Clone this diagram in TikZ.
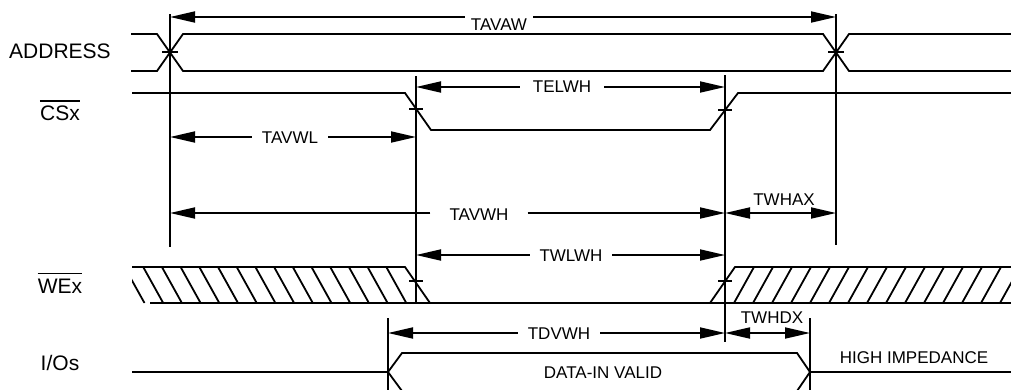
\documentclass[tikz,border=0pt]{standalone}
\usepackage{fontspec}
\setmainfont{Liberation Sans}
\usetikzlibrary{arrows.meta}
\begin{document}
\begin{tikzpicture}[x=1pt,y=-1pt,
  sig/.style={line width=1.8pt, line join=miter},
  guide/.style={line width=1.8pt},
  tick/.style={line width=1.6pt},
  dimr/.style={line width=1.8pt, -{Triangle[length=25pt,width=11pt]}},
  dimb/.style={line width=1.8pt, {Triangle[length=25pt,width=11pt]}-{Triangle[length=25pt,width=11pt]}},
  dimlbl/.style={font=\fontsize{17}{20}\selectfont, inner sep=0pt, anchor=base},
  signame/.style={font=\fontsize{21}{24}\selectfont, inner sep=0pt, anchor=base},
  hatchline/.style={line width=1.8pt},
  barline/.style={line width=1.6pt}]
\useasboundingbox (0,0) rectangle (1011,389);

% ---------- signal names ----------
\node[signame] (nAddr) at (60,58) {ADDRESS};
\node[signame] (nCS) at (60,120) {CSx};
\node[signame] (nWE) at (60,293) {WEx};
\node[signame] (nIO) at (60,370) {I/Os};
\draw[barline] ([yshift=4pt]nCS.north west) -- ([yshift=4pt]nCS.north east);
\draw[barline] ([yshift=5pt]nWE.north west) -- ([yshift=5pt]nWE.north east);

% ---------- ADDRESS ----------
\draw[sig] (131,34) -- (157,34) -- (183,71) -- (823,71) -- (849,34) -- (1011,34);
\draw[sig] (131,71) -- (157,71) -- (183,34) -- (823,34) -- (849,71) -- (1011,71);

% ---------- CSx ----------
\draw[sig] (132,93) -- (405,93) -- (431,130) -- (710,130) -- (738,93) -- (1011,93);

% ---------- WEx ----------
\draw[sig] (132,267) -- (405,267) -- (430,303);
\draw[sig] (150,303) -- (1011,303);
\draw[sig] (710,303) -- (735,267) -- (1011,267);
\begin{scope}
  \clip (132,267) -- (405,267) -- (430,303) -- (132,303) -- cycle;
  \foreach \k in {1,...,15} {
    \draw[hatchline] ({405-18.7*\k},267) -- ({425-18.7*\k},303);
  }
\end{scope}
\begin{scope}
  \clip (710,303) -- (735,267) -- (1011,267) -- (1011,303) -- cycle;
  \foreach \k in {1,...,15} {
    \draw[hatchline] ({715+19*\k},303) -- ({735+19*\k},267);
  }
\end{scope}

% ---------- I/Os ----------
\draw[sig] (132,372) -- (388,372) -- (402,353) -- (797,353) -- (810,372) -- (1011,372);
\draw[sig] (388,372) -- (402,391) -- (797,391) -- (810,372);
\node[dimlbl] (ndata) at (603,378) {DATA-IN VALID};
\node[dimlbl] (nhiz) at (914,363) {HIGH IMPEDANCE};

% ---------- reference verticals ----------
\draw[guide] (170,14) -- (170,247);
\draw[guide] (836,14) -- (836,245);
\draw[guide] (416,76) -- (416,303);
\draw[guide] (725,75) -- (725,342);
\draw[guide] (388,318) -- (388,395);
\draw[guide] (810,318) -- (810,395);

% ---------- ticks at crossings ----------
\draw[tick] (162,52) -- (178,52);
\draw[tick] (828,52) -- (844,52);
\draw[tick] (409,109) -- (423,109);
\draw[tick] (718,110) -- (732,110);
\draw[tick] (409,281) -- (423,281);
\draw[tick] (718,281) -- (732,281);

% ---------- dimension coordinates ----------
\coordinate (tavawL) at (170,17);  \coordinate (tavawR) at (836,17);
\coordinate (telwhL) at (416,87);  \coordinate (telwhR) at (725,87);
\coordinate (tavwlL) at (170,137); \coordinate (tavwlR) at (416,137);
\coordinate (tavwhL) at (170,213); \coordinate (tavwhR) at (725,213);
\coordinate (twhaxR) at (836,213);
\coordinate (twlwhL) at (416,255); \coordinate (twlwhR) at (725,255);
\coordinate (tdvwhL) at (388,333); \coordinate (tdvwhR) at (725,333);
\coordinate (twhdxR) at (810,333);

% ---------- dimension labels ----------
\node[dimlbl, minimum width=68pt] (tavaw) at (499,30) {TAVAW};
\node[dimlbl, minimum width=84pt] (telwh) at (562,92) {TELWH};
\node[dimlbl, minimum width=76pt] (tavwl) at (290,143) {TAVWL};
\node[dimlbl, minimum width=97pt] (tavwh) at (479,220) {TAVWH};
\node[dimlbl, minimum width=82pt] (twlwh) at (571,261) {TWLWH};
\node[dimlbl, minimum width=82pt] (tdvwh) at (559,339) {TDVWH};
\node[dimlbl] (twhax) at (784,205) {TWHAX};
\node[dimlbl] (twhdx) at (772,323) {TWHDX};

% ---------- dimension arrows ----------
\draw[dimr] (tavaw.west |- tavawL) -- (tavawL);
\draw[dimr] (tavaw.east |- tavawR) -- (tavawR);
\draw[dimr] (telwh.west |- telwhL) -- (telwhL);
\draw[dimr] (telwh.east |- telwhR) -- (telwhR);
\draw[dimr] (tavwl.west |- tavwlL) -- (tavwlL);
\draw[dimr] (tavwl.east |- tavwlR) -- (tavwlR);
\draw[dimr] (tavwh.west |- tavwhL) -- (tavwhL);
\draw[dimr] (tavwh.east |- tavwhR) -- (tavwhR);
\draw[dimb] (tavwhR) -- (twhaxR);
\draw[dimr] (twlwh.west |- twlwhL) -- (twlwhL);
\draw[dimr] (twlwh.east |- twlwhR) -- (twlwhR);
\draw[dimr] (tdvwh.west |- tdvwhL) -- (tdvwhL);
\draw[dimr] (tdvwh.east |- tdvwhR) -- (tdvwhR);
\draw[dimb] (tdvwhR) -- (twhdxR);
\end{tikzpicture}
\end{document}
